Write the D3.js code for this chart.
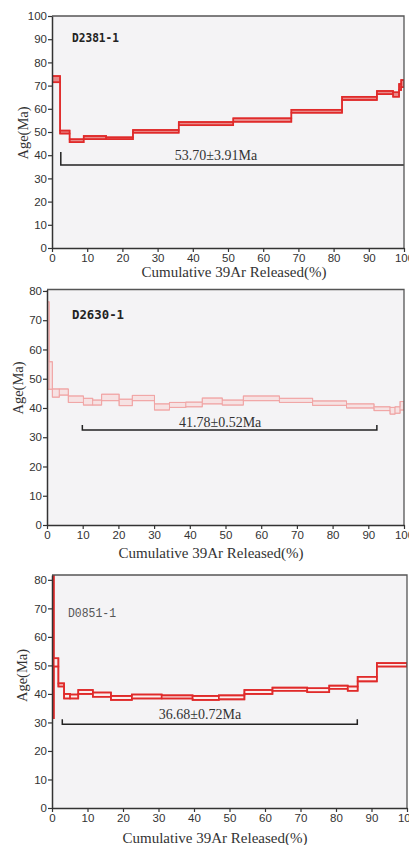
<!DOCTYPE html>
<html lang="en">
<head>
<meta charset="utf-8">
<title>Ar-Ar age spectra</title>
<script src="https://d3js.org/d3.v7.min.js"></script>
<style>
  body { margin: 0; background: #fff; }
  .tick text { font-family: "Liberation Sans", Arial, sans-serif; font-size: 11.5px; fill: #333; }
  .tick line { stroke: #333; stroke-width: 1.2; }
  .domain { stroke: #333; stroke-width: 1.5; }
</style>
</head>
<body>
<script>

var xTicks = [0, 10, 20, 30, 40, 50, 60, 70, 80, 90, 100];
var yTicks100 = [0, 10, 20, 30, 40, 50, 60, 70, 80, 90, 100];
var yTicks80 = [0, 10, 20, 30, 40, 50, 60, 70, 80];

// D2381-1: step edges (cumulative %), lower and upper age (Ma)
var d2381Cum = [0, 2.3, 5.0, 9.0, 15.4, 23, 36, 51.5, 68, 82.4, 92.3, 96.9, 98.6, 99.2, 100];
var d2381Lo = [71.4, 49.3, 45.6, 46.9, 46.9, 49.7, 52.9, 54.4, 58.3, 63.8, 66.3, 65.2, 68.1, 69.3];
var d2381Hi = [74.1, 50.6, 46.9, 48.3, 47.7, 50.9, 54.3, 55.9, 59.6, 65.2, 67.7, 67.1, 70.7, 72.4];
var d2381Plateau = [2.5, 100, 35.8];

// D2630-1
var d2630Cum = [0, 0.6, 1.5, 3.45, 5.97, 10.2, 12.8, 15.3, 20.2, 23.9, 30.1, 34.3, 38.9, 43.5, 49.1, 55, 65.1, 74.4, 83.9, 91.6, 96.1, 97.5, 98.9, 100];
var d2630Lo = [46.4, 46.4, 43.7, 44.4, 41.9, 41.0, 41.0, 42.5, 40.8, 42.5, 39.3, 40.2, 40.4, 41.4, 41.0, 42.5, 41.9, 40.9, 40.0, 39.1, 37.9, 38.2, 39.3];
var d2630Hi = [76.3, 55.8, 46.5, 46.5, 44.1, 43.3, 42.7, 44.7, 43.0, 44.3, 41.4, 41.9, 42.0, 43.4, 42.7, 44.1, 43.3, 42.4, 41.4, 40.4, 40.2, 40.4, 42.2];
var d2630Plateau = [9.9, 92.4, 32.5];

// D0851-1
var d0851Cum = [0, 0.5, 1.8, 3.4, 5.1, 7.4, 11.5, 16.6, 22.5, 30.9, 39.6, 47.0, 54.2, 62.1, 71.9, 78.1, 83.3, 86.1, 91.5, 100];
var d0851Lo = [31.5, 49.6, 42.6, 38.4, 38.4, 40.0, 39.0, 37.9, 38.4, 38.4, 37.9, 38.1, 40.0, 41.1, 40.6, 41.8, 41.1, 44.4, 49.6];
var d0851Hi = [82.0, 52.5, 43.7, 40.0, 39.8, 41.4, 40.5, 39.3, 39.8, 39.5, 39.3, 39.5, 41.4, 42.2, 42.0, 42.9, 42.6, 46.0, 50.8];
var d0851Plateau = [2.9, 86.0, 29.4];

var panels = [
  { name: "D2381-1", cum: d2381Cum, lo: d2381Lo, hi: d2381Hi, plateau: d2381Plateau,
    label: "53.70\u00b13.91Ma", labelX: 46.6, labelDy: -5, bothTicks: false,
    left: 52, right: 404, top: 16, bottom: 248, yMax: 100, yTicks: yTicks100,
    stroke: "#e02a2a", strokeW: 1.5, fill: "#e98a8a",
    nameFont: "DejaVu Sans Mono", nameWeight: "bold", nameX: 72, nameY: 41.5, nameW: 47,
    xTitleX: 234, xTitleY: 277, yTitleX: 23, yTitleY: 133 },
  { name: "D2630-1", cum: d2630Cum, lo: d2630Lo, hi: d2630Hi, plateau: d2630Plateau,
    label: "41.78\u00b10.52Ma", labelX: 48.5, labelDy: -3, bothTicks: true,
    left: 47, right: 404, top: 289.5, bottom: 525, yMax: 80.5, yTicks: yTicks80,
    stroke: "#f0a5a5", strokeW: 0.9, fill: "#f6e2e3",
    nameFont: "DejaVu Sans Mono", nameWeight: "bold", nameX: 72, nameY: 318.5, nameW: 52,
    xTitleX: 211, xTitleY: 558, yTitleX: 17.5, yTitleY: 388 },
  { name: "D0851-1", cum: d0851Cum, lo: d0851Lo, hi: d0851Hi, plateau: d0851Plateau,
    label: "36.68\u00b10.72Ma", labelX: 41.7, labelDy: -5, bothTicks: true,
    left: 52, right: 407, top: 575, bottom: 808, yMax: 81.7, yTicks: yTicks80,
    stroke: "#e02a2a", strokeW: 1.6, fill: "#fbeeee",
    nameFont: "Liberation Mono", nameWeight: "normal", nameX: 68, nameY: 616.5, nameW: 48,
    xTitleX: 215, xTitleY: 843, yTitleX: 22, yTitleY: 675.5 }
];

var svg = d3.select("body")
  .append("svg")
  .attr("width", 409)
  .attr("height", 845);

panels.forEach(function(p, k) {
  var x = d3.scaleLinear().domain([0, 100]).range([p.left, p.right]);
  var y = d3.scaleLinear().domain([0, p.yMax]).range([p.bottom, p.top]);

  var g = svg.append("g");

  // plot background
  g.append("rect")
    .attr("x", p.left).attr("y", p.top)
    .attr("width", p.right - p.left).attr("height", p.bottom - p.top)
    .attr("fill", "#f4f3f5");

  g.append("clipPath").attr("id", "clip" + k)
    .append("rect")
    .attr("x", p.left).attr("y", p.top)
    .attr("width", p.right - p.left).attr("height", p.bottom - p.top);

  var steps = p.lo.map(function(v, i) {
    return { x0: p.cum[i], x1: p.cum[i + 1], lo: v, hi: p.hi[i] };
  });

  var plot = g.append("g").attr("clip-path", "url(#clip" + k + ")");

  plot.selectAll(".step")
    .data(steps)
    .enter()
    .append("rect")
    .attr("class", "step")
    .attr("x", function(d) { return x(d.x0); })
    .attr("width", function(d) { return x(d.x1) - x(d.x0); })
    .attr("y", function(d) { return y(d.hi); })
    .attr("height", function(d) { return y(d.lo) - y(d.hi); })
    .attr("fill", p.fill)
    .attr("stroke", p.stroke)
    .attr("stroke-width", p.strokeW);

  // upper and lower step lines join the boxes
  var stepLine = d3.line()
    .x(function(d) { return x(d[0]); })
    .y(function(d) { return y(d[1]); })
    .curve(d3.curveStepAfter);

  [p.hi, p.lo].forEach(function(arr) {
    var pts = arr.map(function(v, i) { return [p.cum[i], v]; });
    pts.push([p.cum[p.cum.length - 1], arr[arr.length - 1]]);
    plot.append("path")
      .attr("d", stepLine(pts))
      .attr("fill", "none")
      .attr("stroke", p.stroke)
      .attr("stroke-width", p.strokeW);
  });

  // plateau bracket
  var px0 = x(p.plateau[0]), px1 = x(p.plateau[1]), py = y(p.plateau[2]);
  var tickH = k === 0 ? 13 : 5;
  var d = "M" + px0 + "," + (py - tickH) + "V" + py + "H" + px1;
  if (p.bothTicks) d += "V" + (py - tickH);
  g.append("path")
    .attr("d", d)
    .attr("fill", "none")
    .attr("stroke", "#222")
    .attr("stroke-width", 1.5);

  g.append("text")
    .attr("x", x(p.labelX))
    .attr("y", py + p.labelDy)
    .attr("text-anchor", "middle")
    .attr("font-family", "Liberation Serif, Times New Roman, serif")
    .attr("font-size", 14)
    .attr("fill", "#333")
    .text(p.label);

  // sample name
  g.append("text")
    .attr("x", p.nameX)
    .attr("y", p.nameY)
    .attr("font-family", p.nameFont)
    .attr("font-weight", p.nameWeight)
    .attr("font-size", 13)
    .attr("textLength", p.nameW)
    .attr("lengthAdjust", "spacingAndGlyphs")
    .attr("fill", k === 2 ? "#555" : "#222")
    .text(p.name);

  // frame top and right
  g.append("path")
    .attr("d", "M" + p.left + "," + p.top + "H" + p.right + "V" + p.bottom)
    .attr("fill", "none")
    .attr("stroke", "#555")
    .attr("stroke-width", 1.3);

  // axes
  g.append("g")
    .attr("transform", "translate(0," + p.bottom + ")")
    .call(d3.axisBottom(x).tickValues(xTicks).tickSize(4).tickSizeOuter(0).tickPadding(2));

  g.append("g")
    .attr("transform", "translate(" + p.left + ",0)")
    .call(d3.axisLeft(y).tickValues(p.yTicks).tickSize(4).tickSizeOuter(0).tickPadding(1));

  g.append("text")
    .attr("x", p.xTitleX)
    .attr("y", p.xTitleY)
    .attr("text-anchor", "middle")
    .attr("font-family", "Liberation Serif, Times New Roman, serif")
    .attr("font-size", 15)
    .attr("fill", "#333")
    .text("Cumulative 39Ar Released(%)");

  g.append("text")
    .attr("transform", "translate(" + p.yTitleX + "," + p.yTitleY + ") rotate(-90)")
    .attr("text-anchor", "middle")
    .attr("dy", "0.35em")
    .attr("font-family", "Liberation Serif, Times New Roman, serif")
    .attr("font-size", 14.5)
    .attr("fill", "#333")
    .text("Age(Ma)");
});

</script>
</body>
</html>
